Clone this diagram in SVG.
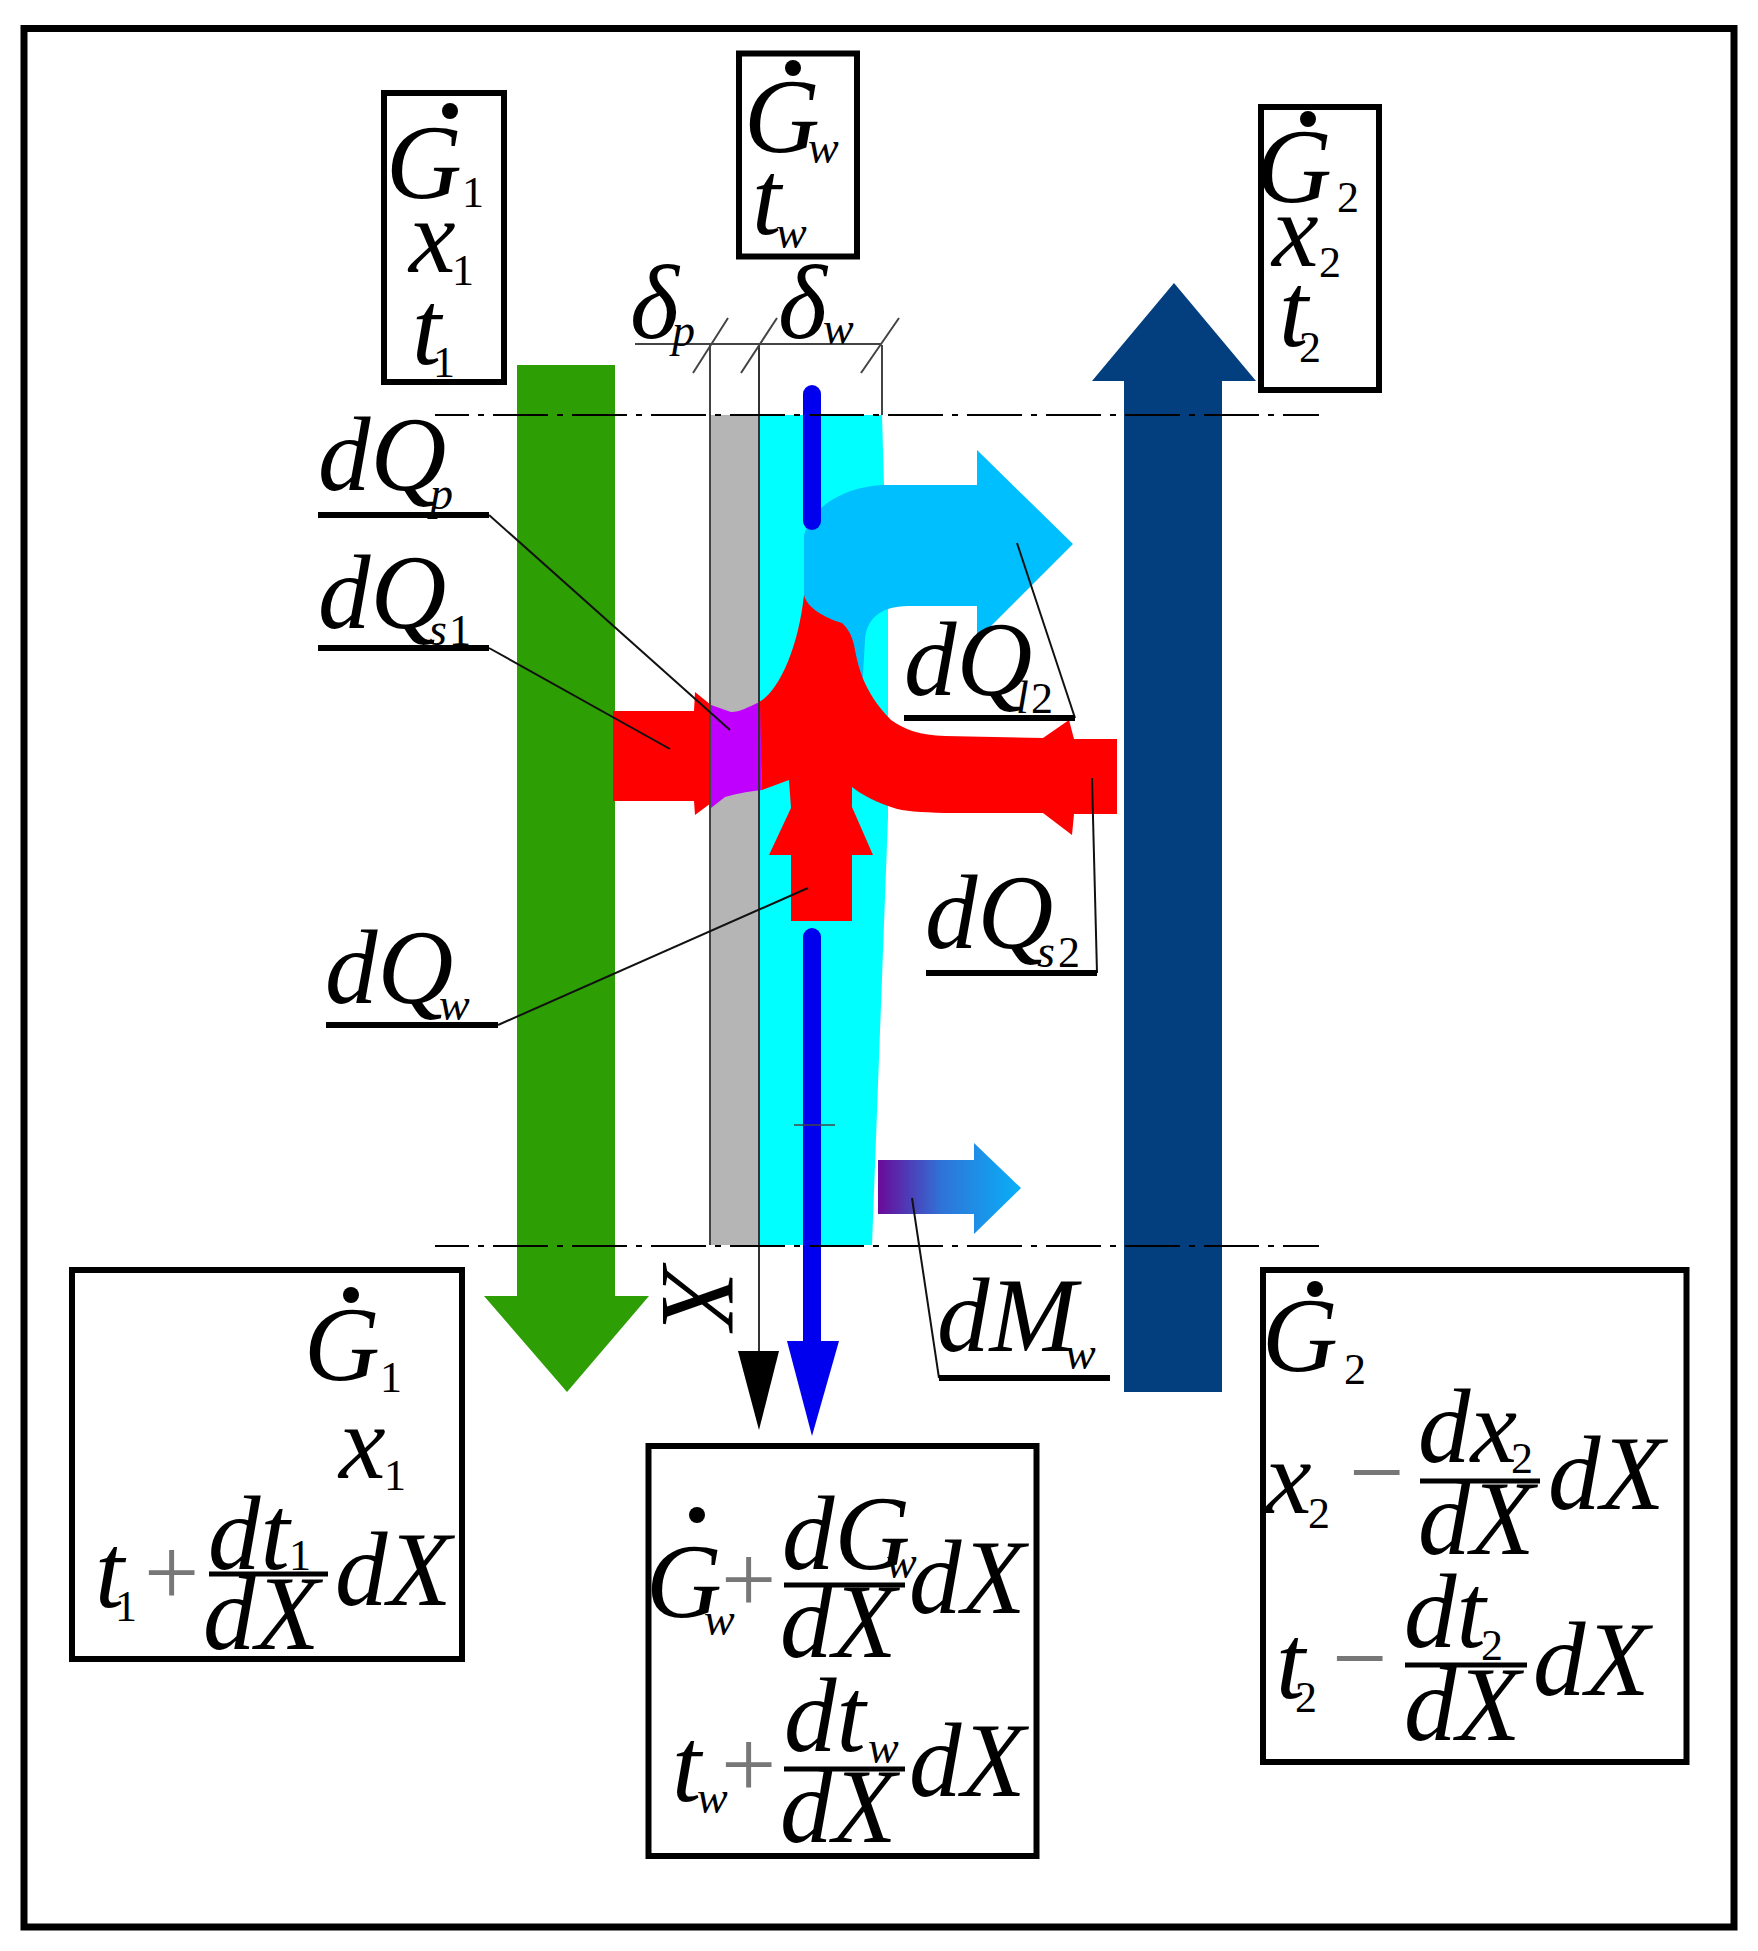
<svg xmlns="http://www.w3.org/2000/svg" width="1758" height="1951" viewBox="0 0 1758 1951">
<style>
.box{fill:none;stroke:#000;stroke-width:6}
.t{font-family:"Liberation Serif","Times New Roman",serif;font-style:italic;font-size:105px;fill:#000}
.s{font-style:italic;font-size:46px}
.n{font-style:normal;font-size:44px}
.op{font-family:"Liberation Serif","Times New Roman",serif;font-size:98px;fill:#777}
.leader{fill:none;stroke:#111;stroke-width:2}
.under{fill:none;stroke:#000;stroke-width:6}
.frac{fill:none;stroke:#000;stroke-width:5}
.dim{fill:none;stroke:#444;stroke-width:2}
.axis{fill:none;stroke:#000;stroke-width:2;stroke-dasharray:55 9 6 9;stroke-dashoffset:21}
</style>
<defs>
<linearGradient id="moist" x1="0" y1="0" x2="1" y2="0"><stop offset="0" stop-color="#6a0a98"/><stop offset="0.45" stop-color="#2f74d8"/><stop offset="1" stop-color="#08b0f8"/></linearGradient>
</defs>
<rect width="1758" height="1951" fill="#fff"/>
<rect id="frame" x="24" y="28.5" width="1710" height="1898.5" fill="none" stroke="#000" stroke-width="7"/>

<g id="wall">
<rect x="710" y="415" width="49" height="830" fill="#b5b5b5"/>
<path d="M759 415L882 415L884 485L888 606L888 817L872 1245L759 1245Z" fill="#00ffff"/>
</g>

<g id="stream-1"><path d="M517 365H615V1296H649L567 1392L484 1296H517Z" fill="#2e9e05"/></g>
<g id="stream-2"><path d="M1124 1392V381H1092L1174 283L1256 381H1222V1392Z" fill="#033f7f"/></g>

<g id="latent-heat"><path d="M804 600V536C810 505 850 485 886 485H977V450L1073 544L977 640V606H908C880 606 866 620 865 640L862 690L830 690Z" fill="#00bfff"/></g>

<g id="sensible-heat">
<path d="M613 711H694L695 692L711 705V803L695 815L694 801L613 801Z" fill="#f00"/>
<path d="M759 702C778 692 798 650 804 595C807 608 825 618 842 623C850 630 853 640 854 645C858 665 862 690 891 720C905 730 920 735 945 736L1043 738L1069 720L1074 739H1117V814H1074L1072 835L1043 813H945C920 812 905 812 891 807C878 803 862 795 852 787V807L873 855H852V921H791V855H769L791 808L789 780L762 790Z" fill="#f00"/>
<path d="M711 705L731 712C740 712 748 707 760 702L762 790C745 792 735 794 725 797L711 808Z" fill="#c000ff"/>
</g>

<g id="water-film">
<path d="M812 394V521" fill="none" stroke="#0000ee" stroke-width="18" stroke-linecap="round"/>
<path d="M812 937V1345" fill="none" stroke="#0000ee" stroke-width="18"/>
<circle cx="812" cy="937" r="9" fill="#0000ee"/>
<path d="M787 1341H839L812 1436Z" fill="#0000ee"/>
</g>

<g id="mass-transfer"><path d="M878 1160H974V1143L1021 1188L974 1234V1214H878Z" fill="url(#moist)"/></g>

<g id="connectors">
<path class="dim" d="M710 345V1245M882 345V415"/>
<path d="M759 345V1355" fill="none" stroke="#333" stroke-width="2"/>
<path d="M738 1351H779L759 1430Z" fill="#000"/>
<path class="dim" d="M635 344H881M693 373L728 318M741 373L777 318M861 373L899 318"/>
<path class="axis" d="M435 415H1319"/>
<path class="axis" d="M435 1246H1319"/>
<path d="M794 1125H835" fill="none" stroke="#444" stroke-width="1.5"/>
<path class="leader" d="M489 515L730 730"/>
<path class="leader" d="M489 648L670 749"/>
<path class="leader" d="M498 1025L808 888"/>
<path class="leader" d="M1075 718L1017 543"/>
<path class="leader" d="M1097 973L1092 778"/>
<path class="leader" d="M939 1378L912 1198"/>
<path class="under" d="M318 515H489M318 648H489M326 1025H498M904 718H1075M926 973H1097M939 1378H1110"/>
</g>

<g id="inlet-1">
<rect class="box" x="384" y="93" width="120" height="289"/>
<circle cx="450" cy="111" r="8"/>
<text class="t" x="386" y="198">G<tspan class="n" x="462" y="207">1</tspan></text>
<text class="t" x="409" y="272">x<tspan class="n" x="452" y="285">1</tspan></text>
<text class="t" x="412" y="364">t<tspan class="n" x="433" y="377">1</tspan></text>
</g>
<g id="inlet-w">
<rect class="box" x="739" y="53.5" width="118" height="203"/>
<circle cx="793" cy="68" r="8"/>
<text class="t" x="744" y="152">G<tspan class="s" x="808" y="163">w</tspan></text>
<text class="t" x="752" y="234">t<tspan class="s" x="776" y="248">w</tspan></text>
</g>
<g id="outlet-2">
<rect class="box" x="1261" y="107" width="118" height="283"/>
<circle cx="1308" cy="119" r="8"/>
<text class="t" x="1256" y="202">G<tspan class="n" x="1337" y="212">2</tspan></text>
<text class="t" x="1272" y="266">x<tspan class="n" x="1319" y="277">2</tspan></text>
<text class="t" x="1279" y="346">t<tspan class="n" x="1299" y="362">2</tspan></text>
</g>

<g id="label-delta-p"><text class="t" x="630" y="338">δ<tspan class="s" x="672" y="346">p</tspan></text></g>
<g id="label-delta-w"><text class="t" x="778" y="338">δ<tspan class="s" x="823" y="344">w</tspan></text></g>
<g id="label-dQp"><text class="t" x="318" y="490">dQ<tspan class="s" x="430" y="509">p</tspan></text></g>
<g id="label-dQs1"><text class="t" x="318" y="628">dQ<tspan class="s" x="429" y="645">s</tspan><tspan class="n" x="449" y="645">1</tspan></text></g>
<g id="label-dQw"><text class="t" x="325" y="1003">dQ<tspan class="s" x="439" y="1020">w</tspan></text></g>
<g id="label-dQl2"><text class="t" x="904" y="695">dQ<tspan class="s" x="1016" y="713">l</tspan><tspan class="n" x="1031" y="713">2</tspan></text></g>
<g id="label-dQs2"><text class="t" x="925" y="948">dQ<tspan class="s" x="1037" y="967">s</tspan><tspan class="n" x="1058" y="967">2</tspan></text></g>
<g id="label-dMw"><text class="t" x="937" y="1351">dM<tspan class="s" x="1065" y="1369">w</tspan></text></g>
<g id="label-X"><text class="t" transform="translate(663 1266) rotate(90)">X</text></g>

<g id="outlet-1">
<rect class="box" x="72" y="1270" width="390" height="389"/>
<circle cx="351" cy="1295" r="8"/>
<text class="t" x="304" y="1380">G<tspan class="n" x="380" y="1392">1</tspan></text>
<text class="t" x="339" y="1478">x<tspan class="n" x="384" y="1490">1</tspan></text>
<text class="t" x="95" y="1607">t<tspan class="n" x="115" y="1621">1</tspan></text>
<text class="op" x="144" y="1605">+</text>
<text class="t" x="208" y="1569">dt<tspan class="n" x="289" y="1570">1</tspan></text>
<path class="frac" d="M209 1574H328"/>
<text class="t" x="203" y="1649">dX</text>
<text class="t" x="335" y="1605">dX</text>
</g>
<g id="outlet-w">
<rect class="box" x="648.5" y="1446" width="388" height="410"/>
<circle cx="697" cy="1515" r="8"/>
<text class="t" x="646" y="1617">G<tspan class="s" x="704" y="1635">w</tspan></text>
<text class="op" x="721" y="1612">+</text>
<text class="t" x="782" y="1569">dG<tspan class="s" x="886" y="1578">w</tspan></text>
<path class="frac" d="M784 1585H905"/>
<text class="t" x="780" y="1657">dX</text>
<text class="t" x="909" y="1613">dX</text>
<text class="t" x="672" y="1801">t<tspan class="s" x="697" y="1813">w</tspan></text>
<text class="op" x="721" y="1797">+</text>
<text class="t" x="784" y="1751">dt<tspan class="s" x="868" y="1763">w</tspan></text>
<path class="frac" d="M784 1769H905"/>
<text class="t" x="780" y="1842">dX</text>
<text class="t" x="909" y="1796">dX</text>
</g>
<g id="outlet-2b">
<rect class="box" x="1263" y="1270" width="423.5" height="492"/>
<circle cx="1315" cy="1289" r="8"/>
<text class="t" x="1262" y="1371">G<tspan class="n" x="1344" y="1384">2</tspan></text>
<text class="t" x="1265" y="1513">x<tspan class="n" x="1308" y="1528">2</tspan></text>
<text class="op" x="1349" y="1505">−</text>
<text class="t" x="1418" y="1462">dx<tspan class="n" x="1511" y="1473">2</tspan></text>
<path class="frac" d="M1420 1481H1540"/>
<text class="t" x="1418" y="1554">dX</text>
<text class="t" x="1548" y="1509">dX</text>
<text class="t" x="1276" y="1698">t<tspan class="n" x="1295" y="1712">2</tspan></text>
<text class="op" x="1332" y="1691">−</text>
<text class="t" x="1404" y="1647">dt<tspan class="n" x="1481" y="1660">2</tspan></text>
<path class="frac" d="M1405 1665H1527"/>
<text class="t" x="1404" y="1740">dX</text>
<text class="t" x="1533" y="1695">dX</text>
</g>
</svg>
